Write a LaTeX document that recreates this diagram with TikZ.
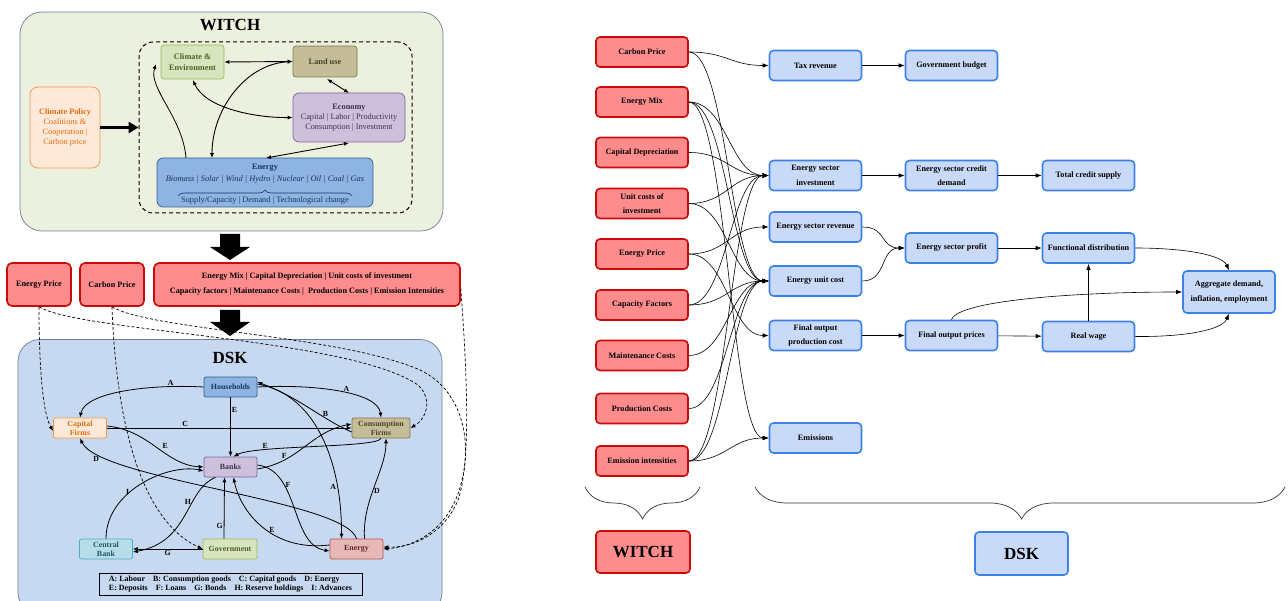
\documentclass[tikz,border=0pt]{standalone}
\usepackage{fontspec}
\setmainfont{Liberation Serif}
\usetikzlibrary{arrows.meta,decorations.pathreplacing}
\definecolor{redB}{RGB}{200,10,10}
\definecolor{redF}{RGB}{255,140,140}
\definecolor{bluB}{RGB}{60,130,230}
\definecolor{bluF}{RGB}{201,218,248}
\definecolor{witchbg}{RGB}{235,241,222}
\definecolor{dskbg}{RGB}{198,217,240}
\definecolor{panelB}{RGB}{110,125,150}
\definecolor{climF}{RGB}{215,228,189}
\definecolor{climB}{RGB}{155,187,89}
\definecolor{climT}{RGB}{79,98,40}
\definecolor{landF}{RGB}{196,189,151}
\definecolor{landB}{RGB}{127,120,80}
\definecolor{landT}{RGB}{74,69,42}
\definecolor{econF}{RGB}{204,192,218}
\definecolor{econB}{RGB}{128,100,162}
\definecolor{econT}{RGB}{63,49,81}
\definecolor{enerF}{RGB}{141,180,226}
\definecolor{enerB}{RGB}{54,95,145}
\definecolor{enerT}{RGB}{23,55,94}
\definecolor{polF}{RGB}{253,233,217}
\definecolor{polB}{RGB}{247,150,70}
\definecolor{polT}{RGB}{228,108,10}
\definecolor{cbF}{RGB}{183,222,232}
\definecolor{cbB}{RGB}{75,172,198}
\definecolor{cbT}{RGB}{33,89,104}
\definecolor{enF}{RGB}{230,185,184}
\definecolor{enB}{RGB}{192,80,77}
\definecolor{enT}{RGB}{99,37,35}
\begin{document}
\begin{tikzpicture}[x=1pt,y=-1pt,
  rbox/.style={draw=redB, fill=redF, line width=1.6pt, rounded corners=4pt, font=\fontsize{8.2}{14.5}\selectfont\bfseries, align=center, inner sep=0pt, minimum width=92pt, minimum height=30pt},
  bbox/.style={draw=bluB, fill=bluF, line width=1.6pt, rounded corners=4pt, font=\fontsize{8.2}{14.5}\selectfont\bfseries, align=center, inner sep=0pt, minimum width=92pt, minimum height=30pt},
  link/.style={-{Latex[length=6pt,width=4.5pt]}, line width=0.6pt},
  wbox/.style={rounded corners=3pt, line width=0.7pt, align=center, inner sep=0pt, font=\fontsize{8.3}{10}\selectfont},
  dbox/.style={rounded corners=2pt, line width=0.7pt, align=center, inner sep=0pt, minimum width=53pt, minimum height=20pt, font=\fontsize{7.9}{8.8}\selectfont\bfseries},
  warr/.style={{Latex[length=5pt,width=4pt]}-{Latex[length=5pt,width=4pt]}, line width=0.9pt},
  darr/.style={-{Latex[length=5pt,width=4pt]}, line width=0.8pt},
  dashlink/.style={-{Latex[length=5pt,width=4pt]}, line width=0.7pt, dash pattern=on 3pt off 2pt},
  lab/.style={font=\fontsize{7.8}{8}\selectfont\bfseries, inner sep=1pt},
  mid/.style={draw=redB, fill=redF, line width=1.6pt, rounded corners=5pt, align=center, inner sep=0pt, minimum height=43pt, font=\fontsize{8.2}{15}\selectfont\bfseries}
]
\useasboundingbox (0,0) rectangle (1288,601);

% ================= WITCH panel =================
\node[draw=panelB, fill=witchbg, rounded corners=22pt, line width=0.7pt, minimum width=423pt, minimum height=219pt, inner sep=0pt] (witch) at (231.5,121.5) {};
\node[font=\fontsize{17}{17}\selectfont\bfseries] (witchT) at (230,25) {WITCH};
\node[draw, dashed, dash pattern=on 4pt off 3pt, line width=1pt, rounded corners=14pt, minimum width=273pt, minimum height=171pt, inner sep=0pt] (core) at (275.5,127.5) {};

\node[wbox, draw=polB, fill=polF, text=polT, rounded corners=8pt, minimum width=70pt, minimum height=81pt] (pol) at (65,127.5) {\textbf{Climate Policy}\\Coalitions \&\\Cooperation |\\Carbon price};
\node[wbox, draw=climB, fill=climF, text=climT, minimum width=63pt, minimum height=34pt, font=\fontsize{8.3}{10.5}\selectfont\bfseries] (clim) at (192.5,62) {Climate \&\\Environment};
\node[wbox, draw=landB, fill=landF, text=landT, minimum width=64pt, minimum height=31pt, font=\fontsize{8.3}{10}\selectfont\bfseries] (land) at (325,61.5) {Land use};
\node[wbox, draw=econB, fill=econF, text=econT, rounded corners=6pt, minimum width=112pt, minimum height=49pt] (econ) at (349,117.5) {\textbf{Economy}\\Capital | Labor | Productivity\\Consumption | Investment};
\node[wbox, draw=enerB, fill=enerF, rounded corners=6pt, minimum width=216pt, minimum height=49pt] (ener) at (265,182.5) {};
\node[font=\fontsize{8.3}{8}\selectfont\bfseries, text=enerT, inner sep=0pt] (enerT) at (265,168) {Energy};
\node[font=\fontsize{8.4}{8}\selectfont\itshape, text=enerT, inner sep=0pt] (enerS) at (265,179) {Biomass | Solar | Wind | Hydro | Nuclear | Oil | Coal | Gas};
\node[font=\fontsize{8.3}{8}\selectfont, text=enerT, inner sep=0pt] (enerD) at (265,200.5) {Supply/Capacity | Demand | Technological change};
\draw[enerT, line width=0.6pt, decorate, decoration={brace, amplitude=6pt}] (178,196) -- (352,196);

\draw[-{Triangle[length=10pt,width=11pt]}, line width=2.6pt] (pol.east) -- (core.west |- pol.east);
\draw[warr] (clim.east) -- (land.west);
\draw[warr] (land.west) .. controls (245,64) and (212,110) .. (212,158);
\draw[darr] (186,158) .. controls (183,118) and (148,88) .. (156,64);
\draw[warr] (193,80) .. controls (205,108) and (255,118) .. (econ.west);
\draw[warr] (327,79) -- (349,93);
\draw[warr] (349,143) -- (266,158);

% block arrows
\fill (220,234) -- (240,234) -- (240,247) -- (250,247) -- (230,260) -- (210,247) -- (220,247) -- cycle;
\fill (220,310) -- (240,310) -- (240,322) -- (250,322) -- (230,336) -- (210,322) -- (220,322) -- cycle;

% middle red boxes
\node[mid, minimum width=64pt] (mep) at (39,284.5) {Energy Price};
\node[mid, minimum width=64pt] (mcp) at (112,284.5) {Carbon Price};
\node[mid, minimum width=306pt] (mbig) at (307,284.5) {Energy Mix | Capital Depreciation | Unit costs of investment\\Capacity factors | Maintenance Costs |\ \ Production Costs | Emission Intensities};

% ================= DSK panel =================
\node[draw=panelB, fill=dskbg, rounded corners=22pt, line width=0.7pt, minimum width=424pt, minimum height=275pt, inner sep=0pt] (dsk) at (230,477) {};
\node[font=\fontsize{17}{17}\selectfont\bfseries] (dskT) at (230,358) {DSK};

\node[dbox, draw=enerB, fill=enerF, text=enerT] (hh) at (230.5,387) {Households};
\node[dbox, draw=polB, fill=polF, text=polT] (kf) at (80,428) {Capital\\Firms};
\node[dbox, draw=landB, fill=landF, text=landT, minimum width=58pt] (cf) at (381,428) {Consumption\\Firms};
\node[dbox, draw=econB, fill=econF, text=econT] (bk) at (230.5,467) {Banks};
\node[dbox, draw=cbB, fill=cbF, text=cbT] (cb) at (106,549) {Central\\Bank};
\node[dbox, draw=climB, fill=climF, text=climT, minimum width=54pt] (gov) at (230,549) {Government};
\node[dbox, draw=enB, fill=enF, text=enT] (en) at (356.5,549) {Energy};
\node[draw, line width=0.9pt, inner sep=1.5pt, minimum width=263pt, minimum height=22pt, align=left, font=\fontsize{8}{9.5}\selectfont\bfseries] (leg) at (230.5,584) {A: Labour\quad B: Consumption goods\quad C: Capital goods\quad D: Energy\\E: Deposits\quad F: Loans\quad G: Bonds\quad H: Reserve holdings\quad I: Advances};

\draw[darr] (hh.west) .. controls (150,384) and (85,392) .. (kf.north) node[lab, pos=0.2, above] {A};
\draw[darr] (hh.east) .. controls (315,384) and (378,392) .. (cf.north) node[lab, pos=0.55, above] {A};
\draw[darr] (hh.south) -- (bk.north) node[lab, pos=0.22, right] {E};
\draw[darr] ([yshift=-4pt]cf.west) .. controls (320,418) and (300,398) .. ([yshift=5pt]hh.east) node[lab, pos=0.3, above] {B};
\draw[darr] (kf.east) -- ([yshift=0pt]cf.west) node[lab, pos=0.32, above] {C};
\draw[darr] ([yshift=2pt]kf.east) .. controls (150,430) and (165,465) .. (bk.west) node[lab, pos=0.55, above right] {E};
\draw[darr] (cf.south) .. controls (378,448) and (255,445) .. ([xshift=3pt]bk.north) node[lab, pos=0.75, above] {E};
\draw[darr] ([yshift=-2pt]bk.east) .. controls (300,462) and (310,432) .. ([yshift=4pt]cf.west) node[lab, pos=0.25, above] {F};
\draw[darr] ([xshift=0pt]en.north) .. controls (345,500) and (100,480) .. (kf.south) node[lab, pos=0.86, below left] {D};
\draw[darr] ([xshift=8pt]en.north) .. controls (362,500) and (386,470) .. ([xshift=5pt]cf.south) node[lab, pos=0.45, right] {D};
\draw[darr] ([yshift=3pt]hh.east) .. controls (320,395) and (342,470) .. ([xshift=-15pt]en.north) node[lab, pos=0.75, left] {A};
\draw[darr] ([yshift=2pt]bk.east) .. controls (300,470) and (290,545) .. ([yshift=-2pt]en.west) node[lab, pos=0.3, right] {F};
\draw[darr] ([yshift=4pt]en.west) .. controls (270,552) and (240,510) .. ([xshift=3pt]bk.south) node[lab, pos=0.4, above] {E};
\draw[darr] ([xshift=-6pt]gov.north) -- ([xshift=-6pt]bk.south) node[lab, pos=0.2, left] {G};
\draw[darr] ([xshift=-15pt]bk.south) .. controls (185,490) and (190,542) .. ([yshift=-3pt]cb.east) node[lab, pos=0.35, left] {H};
\draw[darr] (cb.north) .. controls (106,490) and (170,463) .. ([yshift=-4pt]bk.west) node[lab, pos=0.4, left] {I};
\draw[darr] (gov.west) -- ([yshift=0pt]cb.east) node[lab, pos=0.5, below] {G};

% dashed connectors
\draw[dashlink] (mep.south) .. controls (39,360) and (42,412) .. ([yshift=-3pt]kf.west);
\draw[dashlink] (mep.south) .. controls (80,332) and (350,338) .. (418,385) .. controls (432,398) and (428,418) .. (cf.east);
\draw[dashlink] (mcp.south) .. controls (116,420) and (140,520) .. (gov.west);
\draw[dashlink] (mcp.south) .. controls (150,330) and (340,335) .. (420,370) .. controls (462,390) and (472,440) .. (462,480) .. controls (452,525) and (420,546) .. (en.east);
\draw[dashlink] ([yshift=-4pt]mbig.east) .. controls (466,360) and (472,460) .. (458,500) .. controls (445,532) and (415,548) .. ([yshift=2pt]en.east);

% ================= Right panel =================
\node[rbox] (rcp) at (642,52) {Carbon Price};
\node[rbox] (rem) at (642,102) {Energy Mix};
\node[rbox] (rcd) at (642,152.5) {Capital Depreciation};
\node[rbox] (ruc) at (642,203.5) {Unit costs of\\investment};
\node[rbox] (rep) at (642,254) {Energy Price};
\node[rbox] (rcf) at (642,305) {Capacity Factors};
\node[rbox] (rmc) at (642,355.5) {Maintenance Costs};
\node[rbox] (rpc) at (642,408.5) {Production Costs};
\node[rbox] (rei) at (642,461) {Emission intensities};

\node[bbox] (tax) at (815.5,65.5) {Tax revenue};
\node[bbox] (esi) at (815.5,175.5) {Energy sector\\investment};
\node[bbox] (esr) at (815.5,227) {Energy sector revenue};
\node[bbox] (euc) at (815.5,281) {Energy unit cost};
\node[bbox] (fopc) at (815.5,335.5) {Final output\\production cost};
\node[bbox] (emis) at (815.5,438) {Emissions};

\node[bbox] (gb) at (951.5,65.5) {Government budget};
\node[bbox] (escd) at (951.5,175.5) {Energy sector credit\\demand};
\node[bbox] (esp) at (951.5,248) {Energy sector profit};
\node[bbox] (fop) at (951.5,335.5) {Final output prices};

\node[bbox] (tcs) at (1088.5,175.5) {Total credit supply};
\node[bbox] (fd) at (1088.5,248) {Functional distribution};
\node[bbox] (rw) at (1088.5,336.5) {Real wage};
\node[bbox, minimum height=42pt] (ad) at (1229,292) {Aggregate demand,\\inflation, employment};

\foreach \a/\b in {rcp/tax, rcp/euc, rem/esi, rem/euc, rem/emis, rcd/esi, ruc/esi, ruc/euc, rep/esr, rep/fopc, rcf/esi, rcf/euc, rmc/euc, rpc/euc, rei/esi, rei/euc, rei/emis}
  \draw[link] (\a.east) .. controls +(38,0) and +(-38,0) .. (\b.west);

\draw[link] (tax) -- (gb);
\draw[link] (esi) -- (escd);
\draw[link] (escd) -- (tcs);
\draw[link] (esr.east) .. controls +(25,0) and +(-25,0) .. (esp.west);
\draw[link] (euc.east) .. controls +(25,0) and +(-25,0) .. (esp.west);
\draw[link] (fopc) -- (fop);
\draw[link] (esp) -- (fd);
\draw[link] (fop) -- (rw);
\draw[link] (rw.north) -- (fd.south);
\draw[link] (fd.east) .. controls (1185,248) and (1222,255) .. (ad.north);
\draw[link] (rw.east) .. controls (1185,337) and (1222,330) .. (ad.south);
\draw[link] (fop.north) .. controls (958,300) and (1080,292) .. (ad.west);

% bottom braces and labels
\draw[line width=0.7pt, black!80, decorate, decoration={brace, amplitude=32pt}] (700,487) -- (585,487);
\draw[line width=0.7pt, black!80, decorate, decoration={brace, amplitude=32pt, aspect=0.497}] (1285,487) -- (755,487);
\node[rbox, minimum width=94pt, minimum height=42pt, font=\fontsize{17}{17}\selectfont\bfseries] (witchL) at (643,552) {WITCH};
\node[bbox, minimum width=93pt, minimum height=43pt, font=\fontsize{17}{17}\selectfont\bfseries] (dskL) at (1021.5,553.5) {DSK};
\end{tikzpicture}
\end{document}
